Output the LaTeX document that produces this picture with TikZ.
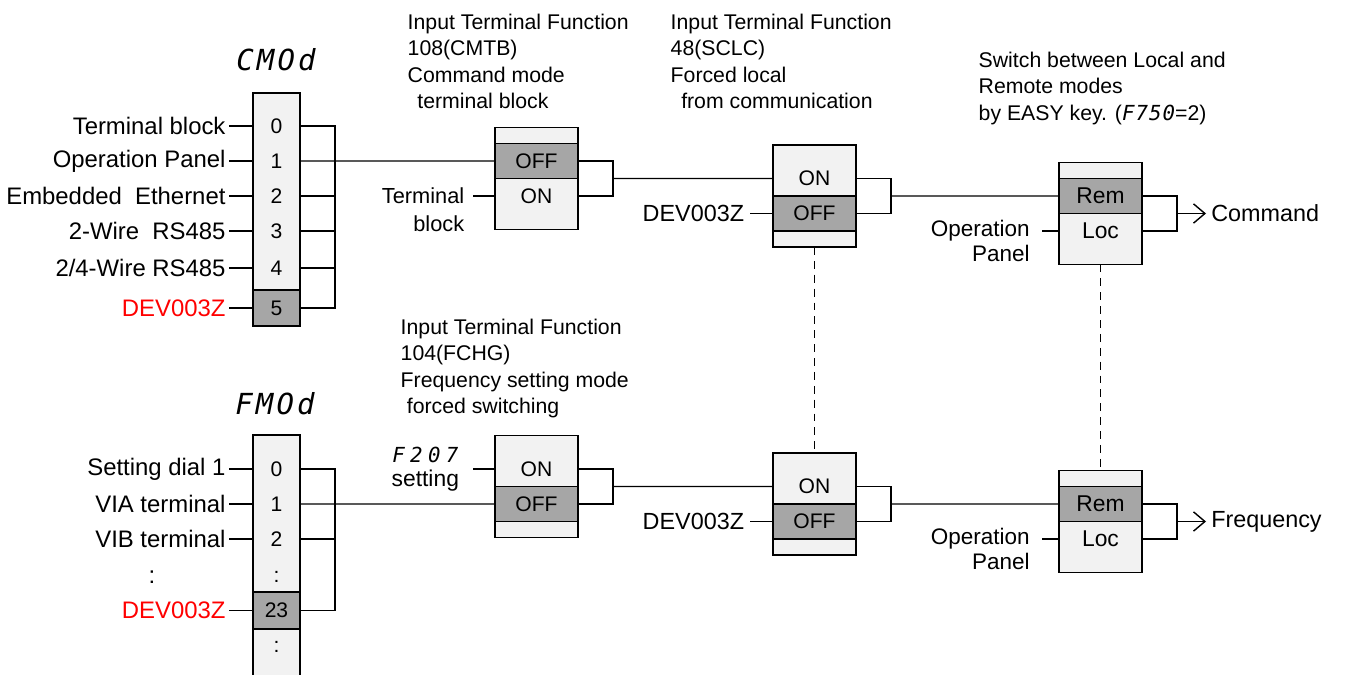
\documentclass[tikz,border=0pt]{standalone}
\usepackage{fontspec}
\setmainfont{Liberation Sans}
\newfontfamily\segfont{DejaVu Sans Mono}
\usetikzlibrary{arrows.meta,positioning}
\definecolor{cellpale}{HTML}{F2F2F2}
\definecolor{celldark}{HTML}{A6A6A6}
\definecolor{srcred}{HTML}{FF0000}
\newcommand{\segword}[3]{{\fontsize{#1}{#1}\segfont\itshape\addfontfeature{LetterSpace=#2}#3}}
\newcommand{\lblfont}{\fontsize{13.3}{16}\selectfont}
\newcommand{\colfont}{\fontsize{13.6}{16}\selectfont}
\newcommand{\notefont}{\fontsize{12.1}{15}\selectfont}
\newcommand{\cellfont}{\fontsize{12}{14}\selectfont}

\begin{document}
\begin{tikzpicture}[x=0.02cm,y=-0.02cm,line width=0.8pt,>={Straight Barb[length=6.5pt,width=11pt]},
  swbox/.style={draw,fill=cellpale,line width=1.1pt,minimum width=1.66cm,minimum height=2.04cm,inner sep=0pt,outer sep=0pt},
  colbox/.style={draw,fill=cellpale,line width=1.1pt,minimum width=0.94cm,inner sep=0pt,outer sep=0pt},
  cell/.style={minimum height=0.7cm,inner sep=0pt,outer sep=0pt,font=\cellfont},
  pale cell/.style={cell,minimum width=1.66cm},
  dark cell/.style={cell,minimum width=1.66cm,draw,fill=celldark,line width=1.1pt},
  col cell/.style={cell,minimum width=0.94cm},
  col dark/.style={col cell,draw,fill=celldark,line width=1.1pt,minimum height=0.72cm},
  src/.style={font=\lblfont,inner sep=2pt,outer sep=0pt},
  col src/.style={src,font=\colfont},
  note/.style={font=\notefont,align=left,anchor=north west,inner sep=0pt},
  gang link/.style={dash pattern=on 4.5pt off 3.4pt,line width=0.7pt}]

  \useasboundingbox (0,0) rectangle (1346,675);

  % command mode selector
  \node[font=\lblfont] (cmname) at (276,60) {\segword{16.5}{11}{CMOd}};
  \node[colbox,minimum height=4.66cm] (cmcol) at (276.5,209.5) {};
  \node[col cell] (c0) at (276.5,126) {0};
  \node[col cell] (c1) at (276.5,161) {1};
  \node[col cell] (c2) at (276.5,196) {2};
  \node[col cell] (c3) at (276.5,231) {3};
  \node[col cell] (c4) at (276.5,268) {4};
  \node[col dark] (c5) at (276.5,308) {5};

  \node[col src,left=0.48cm of c0] (l0) {Terminal block\hspace{6pt}};
  \node[col src,left=0.48cm of c1] (l1) {Operation Panel};
  \node[col src,left=0.48cm of c2] (l2) {Embedded\ \ Ethernet};
  \node[col src,left=0.48cm of c3] (l3) {2-Wire\ \ RS485};
  \node[col src,left=0.48cm of c4] (l4) {2/4-Wire RS485};
  \node[col src,text=srcred,left=0.48cm of c5] (l5) {DEV003Z};
  \path (l0) edge (c0) (l1) edge (c1) (l2) edge (c2)
        (l3) edge (c3) (l4) edge (c4) (l5) edge (c5);

  \coordinate (cmbus) at (335,0);
  \draw (c0.east) -- (c0.east -| cmbus) -- (c5.east -| cmbus) -- (c5.east);
  \foreach \n in {2,3,4} \draw (c\n.east) -- (c\n.east -| cmbus);

  % frequency mode selector
  \node[font=\lblfont] (fmname) at (275,404) {\segword{16.5}{11}{FMOd}};
  \node[colbox,minimum height=5.1cm] (fmcol) at (276.5,562.5) {};
  \node[col cell] (f0) at (276.5,469) {0};
  \node[col cell] (f1) at (276.5,504) {1};
  \node[col cell] (f2) at (276.5,539) {2};
  \node[col cell] (fa) at (276.5,577) {:};
  \node[col dark,minimum height=0.74cm] (f23) at (276.5,610.5) {23};
  \node[col cell] (fb) at (276.5,647) {:};

  \node[col src,left=0.48cm of f0] (g0) {Setting dial 1};
  \node[col src,left=0.48cm of f1] (g1) {VIA terminal};
  \node[col src,left=0.48cm of f2] (g2) {VIB terminal};
  \node[col src] (gdots) at (152,577) {:};
  \node[col src,text=srcred,left=0.48cm of f23] (g23) {DEV003Z};
  \path (g0) edge (f0) (g1) edge (f1) (g2) edge (f2) (g23) edge (f23);

  \coordinate (fmbus) at (335,0);
  \draw (f0.east) -- (f0.east -| fmbus) -- (f23.east -| fmbus) -- (f23.east);
  \draw (f2.east) -- (f2.east -| fmbus);

  % command switches
  \node[swbox] (S1) at (536.5,178.5) {};
  \node[dark cell,below=0.32cm of S1.north] (S1off) {OFF};
  \node[pale cell,below=0pt of S1off] (S1on) {ON};
  \node[src,font=\fontsize{12.4}{14}\selectfont,inner xsep=5pt,left=0.44cm of S1on] (S1src) {Terminal};
  \node[src,font=\fontsize{12.4}{14}\selectfont,inner xsep=5pt,anchor=base east] (S1src2) at ([yshift=-0.56cm]S1src.base east) {block};

  \node[swbox] (S2) at (814.5,196) {};
  \node[pale cell,below=0.32cm of S2.north] (S2on) {ON};
  \node[dark cell,below=0pt of S2on] (S2off) {OFF};
  \node[src,inner xsep=3.4pt,left=0.46cm of S2off] (S2src) {DEV003Z};

  \node[swbox] (S3) at (1100.5,213.5) {};
  \node[dark cell,below=0.32cm of S3.north,font=\fontsize{13}{15}\selectfont] (S3rem) {Rem};
  \node[pale cell,below=0pt of S3rem,font=\fontsize{13}{15}\selectfont] (S3loc) {Loc};
  \node[src,font=\fontsize{12.8}{15}\selectfont,inner xsep=7pt,left=0.34cm of S3loc] (S3src) {Operation};
  \node[src,font=\fontsize{12.8}{15}\selectfont,inner xsep=7pt,anchor=base east] (S3src2) at ([yshift=-0.5cm]S3src.base east) {Panel};

  \draw (c1.east) -- (S1off.west);
  \path (S1src) edge (S1on) (S2src) edge (S2off) (S3src) edge (S3loc);

  \draw (S1off.east) -- ++(35,0) |- (S1on.east);
  \coordinate (S1out) at ([xshift=0.7cm]S1.east);
  \draw (S1out) -- (S2on);
  \draw (S2on.east) -- ++(35,0) |- (S2off.east);
  \coordinate (S2out) at ([xshift=0.7cm]S2.east);
  \draw (S2out) -- (S3rem);
  \draw (S3rem.east) -- ++(35,0) |- (S3loc.east);
  \coordinate (S3out) at ([xshift=0.7cm]S3.east);
  \node[src,inner sep=3pt,anchor=west] (cmd) at (1206,213.5) {Command};
  \draw[->] (S3out) -- (cmd);

  % frequency switches
  \node[swbox] (S4) at (536.5,486.5) {};
  \node[pale cell,below=0.32cm of S4.north] (S4on) {ON};
  \node[dark cell,below=0pt of S4on] (S4off) {OFF};
  \node[src,inner xsep=8pt,align=center,font=\fontsize{13}{14}\selectfont,left=0.44cm of S4on] (S4src)
    {\segword{11.8}{26}{F207}\\setting};

  \node[swbox] (S5) at (814.5,504) {};
  \node[pale cell,below=0.32cm of S5.north] (S5on) {ON};
  \node[dark cell,below=0pt of S5on] (S5off) {OFF};
  \node[src,inner xsep=3.4pt,left=0.46cm of S5off] (S5src) {DEV003Z};

  \node[swbox] (S6) at (1100.5,521.5) {};
  \node[dark cell,below=0.32cm of S6.north,font=\fontsize{13}{15}\selectfont] (S6rem) {Rem};
  \node[pale cell,below=0pt of S6rem,font=\fontsize{13}{15}\selectfont] (S6loc) {Loc};
  \node[src,font=\fontsize{12.8}{15}\selectfont,inner xsep=7pt,left=0.34cm of S6loc] (S6src) {Operation};
  \node[src,font=\fontsize{12.8}{15}\selectfont,inner xsep=7pt,anchor=base east] (S6src2) at ([yshift=-0.5cm]S6src.base east) {Panel};

  \draw (f1.east) -- (S4off.west);
  \path (S4src) edge (S4on) (S5src) edge (S5off) (S6src) edge (S6loc);

  \draw (S4on.east) -- ++(35,0) |- (S4off.east);
  \coordinate (S4out) at ([xshift=0.7cm]S4.east);
  \draw (S4out) -- (S5on);
  \draw (S5on.east) -- ++(35,0) |- (S5off.east);
  \coordinate (S5out) at ([xshift=0.7cm]S5.east);
  \draw (S5out) -- (S6rem);
  \draw (S6rem.east) -- ++(35,0) |- (S6loc.east);
  \coordinate (S6out) at ([xshift=0.7cm]S6.east);
  \node[src,inner sep=3pt,anchor=west] (frq) at (1206,521.5) {Frequency};
  \draw[->] (S6out) -- (frq);

  \draw[gang link] (S2) -- (S5);
  \draw[gang link] (S3) -- (S6);

  % notes
  \node[note] (n1) at (407,13.5) {Input Terminal Function\\108(CMTB)\\Command mode\\\hspace*{5.5pt}terminal block};
  \node[note] (n2) at (670,13.5) {Input Terminal Function\\48(SCLC)\\Forced local\\\hspace*{6pt}from communication};
  \node[note] (n3) at (978,51.5) {Switch between Local and\\Remote modes\\by EASY key. (\segword{11.8}{5}{F750}=2)};
  \node[note] (n4) at (400,318.5) {Input Terminal Function\\104(FCHG)\\Frequency setting mode\\\hspace*{3.5pt}forced switching};
\end{tikzpicture}
\end{document}
